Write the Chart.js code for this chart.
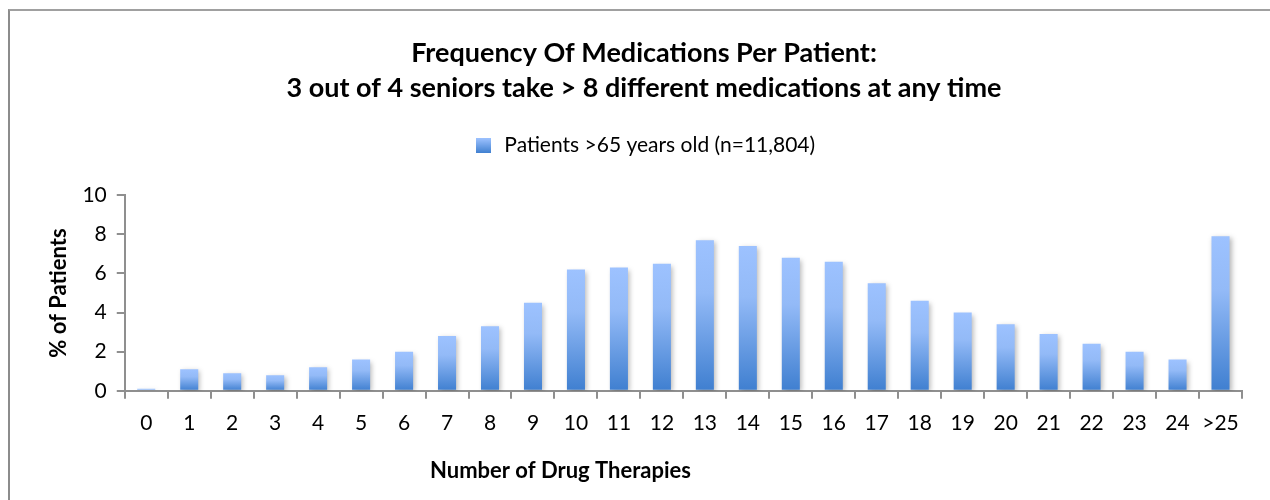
<!DOCTYPE html>
<html>
<head>
<meta charset="utf-8">
<script src="https://cdn.jsdelivr.net/npm/chart.js@4.4.0/dist/chart.umd.min.js"></script>
<style>
  html, body { margin: 0; padding: 0; background: #fff; }
  #wrap { position: relative; width: 1270px; height: 500px; overflow: hidden; }
  #frame { position: absolute; left: 8px; top: 9px; width: 1400px; height: 700px;
           border-left: 2px solid #8c8c8c; border-top: 2px solid #a0a0a0; }
  canvas { position: absolute; left: 0; top: 0; }
</style>
</head>
<body>
<div id="wrap">
  <div id="frame"></div>
  <canvas id="chart" width="1270" height="500"></canvas>
</div>
<script>
/* ---- data ---- */
const categories = ["0","1","2","3","4","5","6","7","8","9","10","11","12",
                    "13","14","15","16","17","18","19","20","21","22","23","24",">25"];
const patientShare = [0.1, 1.1, 0.9, 0.8, 1.2, 1.6, 2.0, 2.8, 3.3, 4.5, 6.2, 6.3, 6.5,
                      7.7, 7.4, 6.8, 6.6, 5.5, 4.6, 4.0, 3.4, 2.9, 2.4, 2.0, 1.6, 7.9];
const seriesName = "Patients >65 years old (n=11,804)";
const titleLines = ["Frequency Of Medications Per Patient:",
                    "3 out of 4 seniors take > 8 different medications at any time"];
const xTitle = "Number of Drug Therapies";
const yTitle = "% of Patients";

const FONT = "Lato, 'Open Sans', sans-serif";
const AXIS = "#8f8f8f";
const TOP_BLUE = "#9dc2ff";
const MID_BLUE = "#93baf7";
const BOTTOM_BLUE = "#3f7fd0";

// per-bar gradient: light at the top, darker at the base
function barFill(c) {
    const chart = c.chart;
    if (!chart.chartArea) return TOP_BLUE;
    const y = chart.scales.y;
    const top = y.getPixelForValue(c.raw);
    const base = y.getPixelForValue(0);
    const g = chart.ctx.createLinearGradient(0, top, 0, base + 0.01);
    g.addColorStop(0, TOP_BLUE);
    g.addColorStop(0.35, MID_BLUE);
    g.addColorStop(1, BOTTOM_BLUE);
    return g;
}

// small gradient square for the legend
const legendSwatch = (function () {
    const cv = document.createElement("canvas");
    cv.width = 15; cv.height = 15;
    const cx = cv.getContext("2d");
    const g = cx.createLinearGradient(0, 0, 0, 15);
    g.addColorStop(0, TOP_BLUE);
    g.addColorStop(1, BOTTOM_BLUE);
    cx.fillStyle = g;
    cx.fillRect(0, 0, 15, 15);
    return cv;
})();

// soft drop shadow behind the bars
const barShadow = {
    id: "barShadow",
    beforeDatasetsDraw(chart) {
        const ctx = chart.ctx;
        ctx.save();
        ctx.shadowColor = "rgba(0,0,0,0.28)";
        ctx.shadowBlur = 5;
        ctx.shadowOffsetX = 2;
        ctx.shadowOffsetY = 2;
    },
    afterDatasetsDraw(chart) {
        chart.ctx.restore();
    }
};

// extra room between legend and plot
const legendGap = {
    id: "legendGap",
    beforeInit(chart) {
        const fit = chart.legend.fit;
        chart.legend.fit = function () {
            fit.bind(chart.legend)();
            this.height += 29;
        };
    }
};

// x axis title sits left of the plot centre, as in the original
const xAxisTitle = {
    id: "xAxisTitle",
    afterDraw(chart) {
        const { ctx, chartArea } = chart;
        ctx.save();
        ctx.font = "bold 22px " + FONT;
        ctx.fillStyle = "#000";
        ctx.textAlign = "center";
        ctx.textBaseline = "middle";
        const x = chartArea.left + (chartArea.right - chartArea.left) * 0.39;
        ctx.fillText(xTitle, x, chartArea.bottom + 80);
        ctx.restore();
    }
};

new Chart(document.getElementById("chart"), {
    type: "bar",
    data: {
        labels: categories,
        datasets: [{
            label: seriesName,
            data: patientShare,
            backgroundColor: barFill,
            borderWidth: 0,
            barPercentage: 0.42,
            categoryPercentage: 1
        }]
    },
    options: {
        responsive: false,
        animation: false,
        layout: { padding: { left: 46, right: 28, top: 0, bottom: 52 } },
        plugins: {
            tooltip: { enabled: false },
            title: {
                display: true,
                text: titleLines,
                color: "#000",
                font: { family: FONT, size: 27, weight: "bold", lineHeight: 1.3 },
                padding: { top: 36, bottom: 17 }
            },
            legend: {
                display: true,
                labels: {
                    color: "#000",
                    font: { family: FONT, size: 21 },
                    usePointStyle: true,
                    pointStyle: legendSwatch,
                    padding: 12
                }
            }
        },
        scales: {
            x: {
                offset: true,
                border: { display: true, color: AXIS, width: 2 },
                grid: { display: true, drawOnChartArea: false, drawTicks: true,
                        tickLength: 8, color: AXIS, lineWidth: 2, offset: true },
                ticks: { color: "#000", font: { family: FONT, size: 21 },
                         padding: 12, maxRotation: 0, autoSkip: false }
            },
            y: {
                min: 0, max: 10,
                border: { display: true, color: AXIS, width: 2 },
                grid: { display: true, drawOnChartArea: false, drawTicks: true,
                        tickLength: 8, color: AXIS, lineWidth: 2 },
                ticks: { stepSize: 2, color: "#000", font: { family: FONT, size: 21 }, padding: 10 },
                title: { display: true, text: yTitle, color: "#000",
                         font: { family: FONT, size: 22, weight: "bold" },
                         padding: { top: 0, bottom: 0 } }
            }
        }
    },
    plugins: [barShadow, legendGap, xAxisTitle]
});
</script>
</body>
</html>
